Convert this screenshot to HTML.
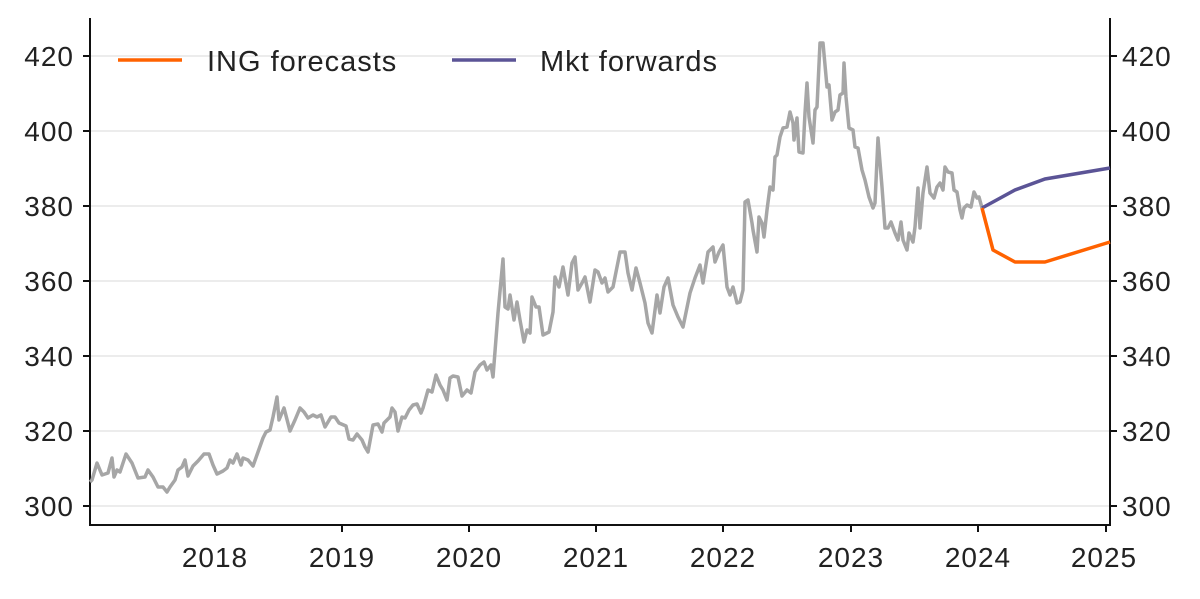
<!DOCTYPE html>
<html><head><meta charset="utf-8"><style>
html,body{margin:0;padding:0;background:#fff;}
svg text{font-family:"Liberation Sans",sans-serif;font-size:28px;fill:#222;letter-spacing:1px;}
</style></head><body>
<svg width="1200" height="594" viewBox="0 0 1200 594" xmlns="http://www.w3.org/2000/svg">
<g stroke="#ececec" stroke-width="2">
<line x1="90" y1="56" x2="1110" y2="56"/><line x1="90" y1="131" x2="1110" y2="131"/><line x1="90" y1="206" x2="1110" y2="206"/><line x1="90" y1="281" x2="1110" y2="281"/><line x1="90" y1="356" x2="1110" y2="356"/><line x1="90" y1="431" x2="1110" y2="431"/><line x1="90" y1="506" x2="1110" y2="506"/>
</g>
<g stroke="#111" stroke-width="2">
<line x1="90" y1="18" x2="90" y2="526"/><line x1="1110" y1="18" x2="1110" y2="526"/><line x1="89" y1="525" x2="1111" y2="525"/>
<line x1="83" y1="56" x2="90" y2="56"/><line x1="83" y1="131" x2="90" y2="131"/><line x1="83" y1="206" x2="90" y2="206"/><line x1="83" y1="281" x2="90" y2="281"/><line x1="83" y1="356" x2="90" y2="356"/><line x1="83" y1="431" x2="90" y2="431"/><line x1="83" y1="506" x2="90" y2="506"/>
<line x1="1110" y1="56" x2="1117" y2="56"/><line x1="1110" y1="131" x2="1117" y2="131"/><line x1="1110" y1="206" x2="1117" y2="206"/><line x1="1110" y1="281" x2="1117" y2="281"/><line x1="1110" y1="356" x2="1117" y2="356"/><line x1="1110" y1="431" x2="1117" y2="431"/><line x1="1110" y1="506" x2="1117" y2="506"/>
<line x1="215" y1="525" x2="215" y2="532"/><line x1="342" y1="525" x2="342" y2="532"/><line x1="469" y1="525" x2="469" y2="532"/><line x1="596" y1="525" x2="596" y2="532"/><line x1="723" y1="525" x2="723" y2="532"/><line x1="851" y1="525" x2="851" y2="532"/><line x1="978" y1="525" x2="978" y2="532"/><line x1="1106" y1="525" x2="1106" y2="532"/>
</g>
<g text-anchor="end">
<text x="74" y="66">420</text><text x="74" y="141">400</text><text x="74" y="216">380</text><text x="74" y="291">360</text><text x="74" y="366">340</text><text x="74" y="441">320</text><text x="74" y="516">300</text>
</g>
<g text-anchor="start">
<text x="1122" y="66">420</text><text x="1122" y="141">400</text><text x="1122" y="216">380</text><text x="1122" y="291">360</text><text x="1122" y="366">340</text><text x="1122" y="441">320</text><text x="1122" y="516">300</text>
</g>
<g text-anchor="middle">
<text x="215" y="567">2018</text><text x="342" y="567">2019</text><text x="469" y="567">2020</text><text x="596" y="567">2021</text><text x="723" y="567">2022</text><text x="851" y="567">2023</text><text x="978" y="567">2024</text><text x="1104" y="567">2025</text>
</g>
<polyline fill="none" stroke="#a6a6a6" stroke-width="3.5" stroke-linejoin="round" points="
90,482 92,480 97,463 102,475 108,473 112,458 114,477 117,470 120,472 126,454 132,463 138,478 145,477 148,470 153,477 158,487 163,487 167,492 170,487 175,480 178,470 182,467 185,460 188,476 193,466 198,461 204,454 209,454 213,465 217,474 223,471 227,468 230,460 233,463 237,454 241,465 243,458 248,460 253,466 258,452 263,438 266,432 270,430 273,417 277,397 279,420 284,408 290,431 295,420 300,408 304,412 308,418 313,415 317,417 321,415 325,427 331,417 335,417 339,423 346,426 349,439 353,440 357,434 362,440 365,447 368,452 373,425 378,424 382,432 384,423 390,417 392,408 395,412 398,431 402,417 405,418 409,410 413,405 417,404 421,413 423,408 428,390 432,392 436,375 440,385 443,390 447,400 450,378 453,376 458,377 462,396 467,390 471,393 475,372 480,365 484,362 487,370 491,365 493,377 498,313 503,259 505,307 508,309 510,295 514,320 517,302 520,320 524,342 527,330 530,333 532,297 536,307 539,307 543,335 547,333 549,332 553,312 555,277 559,287 563,267 568,295 572,263 575,257 578,290 582,283 585,277 590,302 595,270 598,272 602,283 605,278 608,292 613,287 620,252 625,252 628,273 632,290 636,268 640,283 645,303 648,323 652,333 657,295 660,313 664,287 668,278 673,305 678,317 683,327 690,293 695,278 700,265 703,283 708,252 713,247 715,262 719,252 723,245 727,287 730,295 733,287 737,303 740,302 743,290 745,202 748,200 752,223 753,230 757,252 759,217 762,223 764,237 767,210 770,187 773,190 775,157 777,155 780,137 783,128 787,127 790,112 793,123 794,140 797,118 799,152 803,153 805,113 807,83 809,117 813,143 815,110 817,107 820,43 823,43 827,87 829,85 832,120 835,112 838,110 840,95 843,93 844,63 846,97 849,128 853,130 855,147 858,148 862,170 865,180 869,197 873,208 875,203 878,138 882,187 885,228 888,228 891,222 895,233 898,240 901,222 903,240 907,250 909,233 913,242 915,227 918,188 920,228 923,193 927,167 930,193 934,198 937,187 940,183 943,190 945,167 948,172 952,173 954,190 957,192 960,210 962,218 964,208 967,205 971,207 974,192 977,198 979,197 982,208"/>
<polyline fill="none" stroke="#5b5496" stroke-width="3.5" points="982,208 1015,190 1045,179 1110,168"/>
<polyline fill="none" stroke="#ff6200" stroke-width="3.5" stroke-linejoin="round" points="982,208 993,250 1015,262 1045,262 1110,242"/>
<line x1="118" y1="60" x2="182" y2="60" stroke="#ff6200" stroke-width="3.5"/>
<text x="207" y="71" style="font-size:29px">ING forecasts</text>
<line x1="452" y1="60" x2="516" y2="60" stroke="#5b5496" stroke-width="3.5"/>
<text x="540" y="71" style="font-size:29px">Mkt forwards</text>
</svg>
</body></html>
